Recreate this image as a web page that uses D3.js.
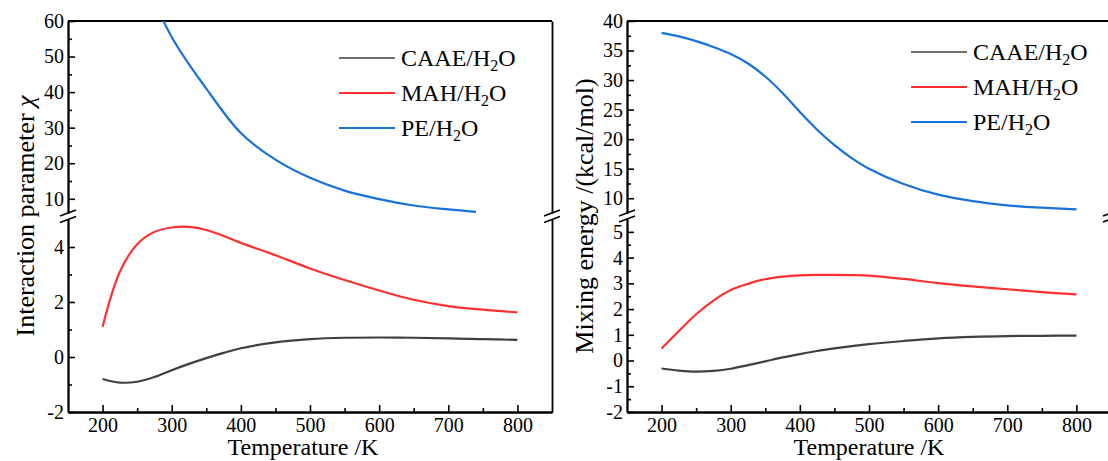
<!DOCTYPE html>
<html>
<head>
<meta charset="utf-8">
<script src="https://cdn.jsdelivr.net/npm/d3@7"></script>
<style>
  body { margin: 0; background: #fff; }
  svg { display: block; font-family: "Liberation Serif", "Times New Roman", serif; }
</style>
</head>
<body>
<script>
// temperatures (K) where values were read
var leftTemps = [200, 225, 250, 275, 300, 325, 350, 375, 400, 450, 500, 550, 600, 650, 700, 750, 800];
var leftCAAE = [-0.80, -0.93, -0.90, -0.73, -0.48, -0.25, -0.04, 0.15, 0.32, 0.53, 0.65, 0.70, 0.71, 0.70, 0.68, 0.65, 0.62];
var leftMAH = [1.10, 3.10, 4.10, 4.55, 4.71, 4.73, 4.62, 4.40, 4.15, 3.70, 3.22, 2.80, 2.42, 2.08, 1.85, 1.72, 1.62];
var leftPETemps = [200, 250, 300, 350, 400, 450, 500, 550, 600, 650, 700, 740];
var leftPE = [105, 77, 55.5, 41, 28.5, 21, 15.9, 12.3, 9.9, 8.1, 7.0, 6.3];

var rightTemps = [200, 225, 250, 275, 300, 325, 350, 375, 400, 425, 450, 475, 500, 550, 600, 650, 700, 750, 800];
var rightCAAE = [-0.31, -0.39, -0.43, -0.40, -0.32, -0.18, -0.03, 0.12, 0.25, 0.37, 0.47, 0.56, 0.64, 0.76, 0.86, 0.92, 0.95, 0.96, 0.97];
var rightMAH = [0.47, 1.15, 1.80, 2.33, 2.74, 2.98, 3.16, 3.26, 3.31, 3.33, 3.33, 3.32, 3.30, 3.17, 3.01, 2.88, 2.77, 2.66, 2.57];
var rightPE = [38.0, 37.4, 36.6, 35.6, 34.4, 32.8, 30.6, 27.8, 24.6, 21.6, 19.0, 16.8, 15.0, 12.4, 10.6, 9.5, 8.8, 8.4, 8.1];

var seriesNames = ["CAAE", "MAH", "PE"];
var colors = {CAAE: "#404040", MAH: "#ff3030", PE: "#1872d8"};

var xTicks = [200, 300, 400, 500, 600, 700, 800];
var xMinor = [250, 350, 450, 550, 650, 750];

var serif = "'Liberation Serif', 'Times New Roman', serif";

var svg = d3.select("body").append("svg")
    .attr("width", 1108)
    .attr("height", 461);

function zip(t, v) {
    return t.map(function(d, i) { return {t: d, v: v[i]}; });
}

function plain(d) { return String(d); }

function drawPanel(p) {
    var g = svg.append("g");
    var x = d3.scaleLinear().domain([150, 850]).range([p.x0, p.x1]);

    // y segments (broken axis)
    p.segs.forEach(function(s, i) {
        s.y = d3.scaleLinear().domain(s.domain).range(s.range);
        var id = "clip" + p.id + i;
        svg.append("clipPath").attr("id", id)
            .append("rect")
            .attr("x", p.x0).attr("width", p.x1 - p.x0)
            .attr("y", s.range[1]).attr("height", s.range[0] - s.range[1]);
        s.clip = id;

        // minor ticks
        g.append("g")
            .attr("transform", "translate(" + p.x0 + ",0)")
            .call(d3.axisLeft(s.y).tickValues(s.minor).tickSizeInner(-4).tickSizeOuter(0).tickFormat(""))
            .call(styleAxis);
        // major ticks
        g.append("g")
            .attr("transform", "translate(" + p.x0 + ",0)")
            .call(d3.axisLeft(s.y).tickValues(s.major).tickSizeInner(-7).tickSizeOuter(0).tickPadding(4).tickFormat(plain))
            .call(styleAxis);
        // right side
        g.append("g")
            .attr("transform", "translate(" + p.x1 + ",0)")
            .call(d3.axisRight(s.y).tickValues([]).tickSizeOuter(0))
            .call(styleAxis);
    });

    // bottom axis
    var yb = p.segs[1].range[0];
    g.append("g")
        .attr("transform", "translate(0," + yb + ")")
        .call(d3.axisBottom(x).tickValues(xMinor).tickSizeInner(-4).tickSizeOuter(0).tickFormat(""))
        .call(styleAxis);
    g.append("g")
        .attr("transform", "translate(0," + yb + ")")
        .call(d3.axisBottom(x).tickValues(xTicks).tickSizeInner(-7).tickSizeOuter(0).tickPadding(6).tickFormat(plain))
        .call(styleAxis);
    // top line
    var yt = p.segs[0].range[1];
    g.append("line")
        .attr("x1", p.x0).attr("x2", p.x1)
        .attr("y1", yt).attr("y2", yt)
        .attr("stroke", "#000").attr("stroke-width", 1.8);

    // break marks
    [p.x0, p.x1].forEach(function(ax) {
        [p.segs[0].range[0], p.segs[1].range[1]].forEach(function(by) {
            g.append("line")
                .attr("x1", ax - 8).attr("y1", by + 3)
                .attr("x2", ax + 8).attr("y2", by - 3)
                .attr("stroke", "#000").attr("stroke-width", 1.6);
        });
    });

    // curves
    p.series.forEach(function(sr) {
        var s = p.segs[sr.seg];
        var line = d3.line()
            .x(function(d) { return x(d.t); })
            .y(function(d) { return s.y(d.v); })
            .curve(d3.curveCatmullRom.alpha(0.5));
        g.append("path")
            .datum(zip(sr.t, sr.v))
            .attr("clip-path", "url(#" + s.clip + ")")
            .attr("fill", "none")
            .attr("stroke", colors[sr.name])
            .attr("stroke-width", 2.2)
            .attr("d", line);
    });

    // legend
    seriesNames.forEach(function(n, i) {
        var ly = p.legY + i * 35;
        g.append("line")
            .attr("x1", p.legX).attr("x2", p.legX + 56)
            .attr("y1", ly).attr("y2", ly)
            .attr("stroke", colors[n]).attr("stroke-width", n == "CAAE" ? 1.6 : 2);
        var t = g.append("text")
            .attr("x", p.legX + 62).attr("y", ly + 8)
            .attr("font-size", 24);
        t.append("tspan").text(n + "/H");
        t.append("tspan").attr("dy", 5).attr("font-size", 16).text("2");
        t.append("tspan").attr("dy", -5).text("O");
    });

    // axis titles
    g.append("text")
        .attr("x", p.xTitleX).attr("y", 455)
        .attr("text-anchor", "middle")
        .attr("font-size", 24)
        .text("Temperature /K");
    var yt2 = g.append("text")
        .attr("transform", "translate(" + p.yTitleX + ",216)rotate(-90)")
        .attr("text-anchor", "middle")
        .attr("font-size", 26)
        .text(p.yTitle);
    if (p.chi) {
        yt2.append("tspan").attr("font-style", "italic").text("\u03c7");
    }
}

function styleAxis(sel) {
    sel.attr("font-family", serif).attr("font-size", 20);
    sel.select(".domain").attr("stroke", "#000").attr("stroke-width", 1.8);
    sel.selectAll(".tick line").attr("stroke", "#000").attr("stroke-width", 1.6);
    sel.selectAll(".tick text")
        .attr("fill", "#000")
        .attr("font-family", serif)
        .attr("font-size", 20);
}

drawPanel({
    id: "L", x0: 68, x1: 552,
    segs: [
        {domain: [6, 60], range: [213, 21], major: [10, 20, 30, 40, 50, 60], minor: [15, 25, 35, 45, 55]},
        {domain: [-2, 5], range: [412, 219.5], major: [-2, 0, 2, 4], minor: [-1, 1, 3]}
    ],
    series: [
        {name: "CAAE", t: leftTemps, v: leftCAAE, seg: 1},
        {name: "MAH", t: leftTemps, v: leftMAH, seg: 1},
        {name: "PE", t: leftPETemps, v: leftPE, seg: 0}
    ],
    legX: 339, legY: 58,
    xTitleX: 303, yTitleX: 34,
    yTitle: "Interaction parameter ", chi: true
});

drawPanel({
    id: "R", x0: 627, x1: 1111,
    segs: [
        {domain: [7.5, 40], range: [213, 21], major: [10, 15, 20, 25, 30, 35, 40], minor: [12.5, 17.5, 22.5, 27.5, 32.5, 37.5]},
        {domain: [-2, 5.5], range: [412, 219], major: [-2, -1, 0, 1, 2, 3, 4, 5], minor: [-1.5, -0.5, 0.5, 1.5, 2.5, 3.5, 4.5]}
    ],
    series: [
        {name: "CAAE", t: rightTemps, v: rightCAAE, seg: 1},
        {name: "MAH", t: rightTemps, v: rightMAH, seg: 1},
        {name: "PE", t: rightTemps, v: rightPE, seg: 0}
    ],
    legX: 911, legY: 52,
    xTitleX: 869, yTitleX: 593,
    yTitle: "Mixing energy /(kcal/mol)", chi: false
});
</script>
</body>
</html>
